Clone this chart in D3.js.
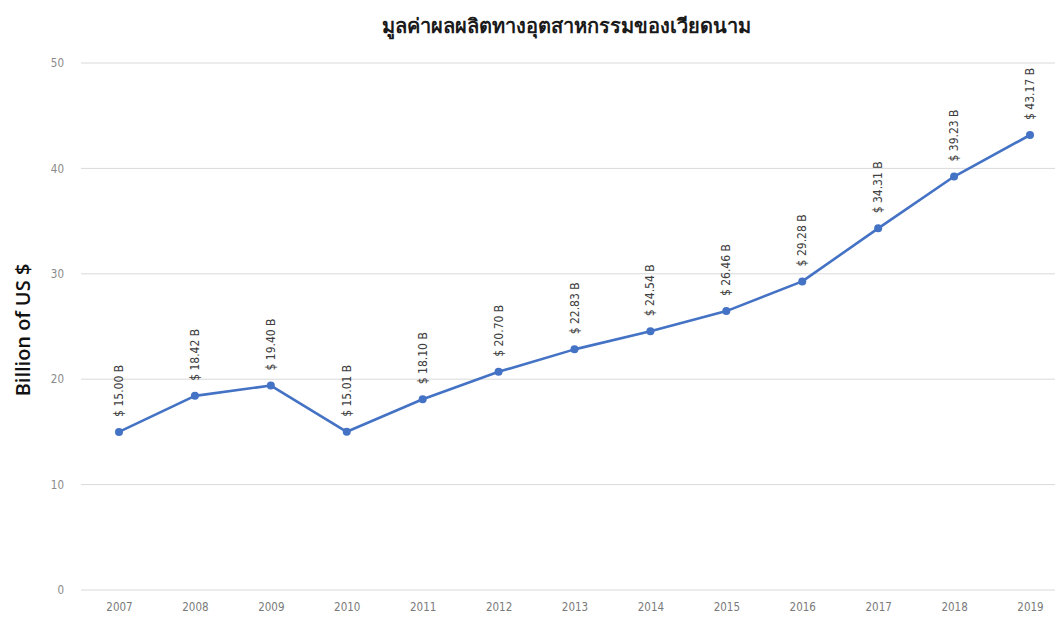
<!DOCTYPE html>
<html>
<head>
<meta charset="utf-8">
<script src="https://cdn.jsdelivr.net/npm/d3@7"></script>
<style>
  body { margin: 0; background: #fff; }
  svg { display: block; font-family: "DejaVu Sans Condensed", "DejaVu Sans", sans-serif; }
</style>
</head>
<body>
<svg width="1055" height="621"></svg>
<script>
//Chart data
var years = ["2007", "2008", "2009", "2010", "2011", "2012", "2013", "2014", "2015", "2016", "2017", "2018", "2019"];
var values = [15.00, 18.42, 19.40, 15.01, 18.10, 20.70, 22.83, 24.54, 26.46, 29.28, 34.31, 39.23, 43.17];
var yTicks = [0, 10, 20, 30, 40, 50];
var title = "มูลค่าผลผลิตทางอุตสาหกรรมของเวียดนาม";
var yTitle = "Billion of US $";

var svg = d3.select("svg");
var lineColor = "#4472c4";

//Scales
var x = d3.scalePoint().domain(years).range([119, 1030]);
var y = d3.scaleLinear().domain([0, 50]).range([590, 63]);

//Grid lines
svg.append("g").selectAll("line").data(yTicks).join("line")
    .attr("x1", 81).attr("x2", 1055)
    .attr("y1", d => y(d)).attr("y2", d => y(d))
    .attr("stroke", "#d9d9d9").attr("stroke-width", 1);

//Y axis labels
var yAxis = svg.append("g").attr("transform", "translate(64,0)")
    .call(d3.axisLeft(y).tickValues(yTicks).tickSize(0).tickPadding(0));
yAxis.select(".domain").remove();
yAxis.selectAll("text").attr("fill", "#8a8a8a").style("font-size", "11.5px")
    .style("font-family", "'DejaVu Sans Condensed', sans-serif");

//X axis labels
var xAxis = svg.append("g").attr("transform", "translate(0,600)")
    .call(d3.axisBottom(x).tickSize(0).tickPadding(3));
xAxis.select(".domain").remove();
xAxis.selectAll("text").attr("fill", "#7a7a7a").style("font-size", "11.5px")
    .style("font-family", "'DejaVu Sans Condensed', sans-serif");

//Line
var line = d3.line().x((d, i) => x(years[i])).y(d => y(d));
svg.append("path").datum(values)
    .attr("d", line)
    .attr("fill", "none")
    .attr("stroke", lineColor)
    .attr("stroke-width", 2.6)
    .attr("stroke-linejoin", "round");

//Markers
svg.append("g").selectAll("circle").data(values).join("circle")
    .attr("cx", (d, i) => x(years[i]))
    .attr("cy", d => y(d))
    .attr("r", 4)
    .attr("fill", lineColor);

//Data labels, rotated
svg.append("g").selectAll("text").data(values).join("text")
    .attr("transform", (d, i) => "translate(" + (x(years[i]) + 4) + "," + (y(d) - 15) + ") rotate(-90)")
    .attr("fill", "#404040")
    .style("font-size", "12px")
    .text(d => "$ " + d.toFixed(2) + " B");

//Title
svg.append("text")
    .attr("x", 566).attr("y", 33)
    .attr("text-anchor", "middle")
    .attr("fill", "#1a1a1a")
    .style("font-size", "20px")
    .style("font-weight", "bold")
    .style("font-family", "'Noto Sans', sans-serif")
    .text(title);

//Y title
svg.append("text")
    .attr("transform", "translate(30,330) rotate(-90)")
    .attr("text-anchor", "middle")
    .attr("fill", "#111")
    .style("font-size", "20px")
    .style("font-family", "'Open Sans', sans-serif")
    .style("font-weight", "600")
    .text(yTitle);
</script>
</body>
</html>
